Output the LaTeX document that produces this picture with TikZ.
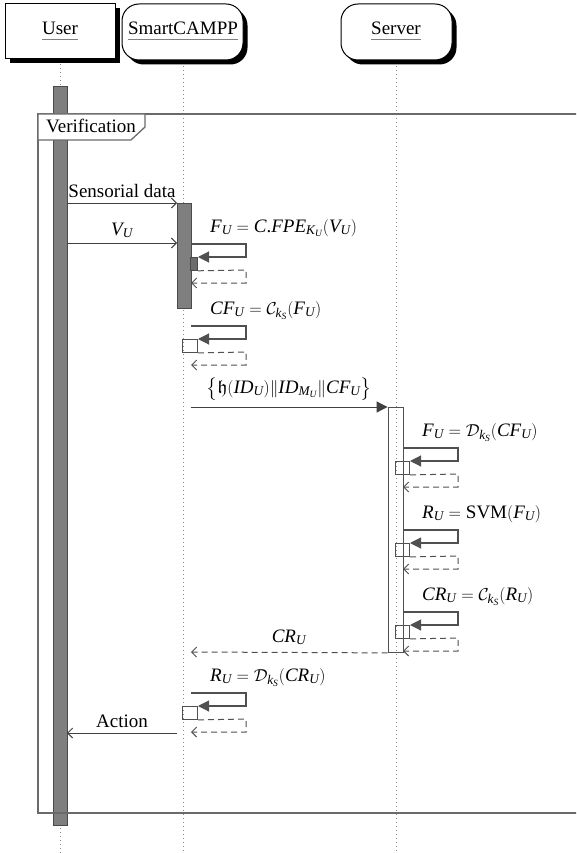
\documentclass[tikz,border=0pt]{standalone}
\usepackage{amsmath}
\usepackage{amssymb}
\usepackage{fontspec}
\setmainfont{Liberation Serif}[NFSSFamily=libser]
\DeclareSymbolFont{letters}{TU}{libser}{m}{it}
\usetikzlibrary{arrows.meta,shadows}
\definecolor{linegray}{HTML}{404040}
\definecolor{loopgray}{HTML}{505050}
\definecolor{barfill}{HTML}{7F7F7F}
\definecolor{bardraw}{HTML}{4A4A4A}
\definecolor{framegray}{HTML}{6A6A6A}
\definecolor{lifegray}{HTML}{8A8A8A}
\tikzset{
  hdr/.style={draw=black, line width=1pt, fill=white, inner sep=0pt,
    drop shadow={shadow xshift=4.5pt, shadow yshift=-4.5pt, fill=black, opacity=1}},
  hname/.style={inner sep=0pt, anchor=base},
  uline/.style={draw=gray, line width=1.6pt},
  lifeline/.style={draw=lifegray, line width=0.9pt, dash pattern=on 1pt off 3pt},
  darkbar/.style={draw=bardraw, fill=barfill, line width=0.8pt, inner sep=0pt},
  whitebar/.style={draw=loopgray, line width=0.9pt, inner sep=0pt},
  nestbar/.style={draw=bardraw, fill=barfill!85!black, line width=0.8pt, inner sep=0pt},
  smallbox/.style={draw=loopgray, line width=0.9pt, inner sep=0pt},
  msg/.style={draw=linegray, line width=1pt},
  loopline/.style={draw=loopgray, line width=1.1pt},
  retline/.style={draw=loopgray, line width=1pt, dash pattern=on 6pt off 4pt},
  openarr/.style={-{Straight Barb[length=5pt,width=10pt,line width=0.9pt]}},
  filledarr/.style={-{Triangle[length=11pt,width=11pt]}},
  lbl/.style={inner sep=0pt},
}
\newcommand\selfcall[6]{%
  \begin{scope}[shift={(#2,#3)}]
    \coordinate (#1a) at (0,0);
    \coordinate (#1b) at (55,0);
    \coordinate (#1c) at (55,13);
    \node[#5, anchor=north east, minimum width=#4, minimum height=13] (#1box) at (7,13) {};
    \coordinate (#1d) at (55,26);
    \coordinate (#1e) at (55,39);
    \coordinate (#1f) at (0,39);
    \draw[loopline, filledarr] (#1a) -- (#1b) -- (#1c) -- (#1box.north east);
    \draw[retline, openarr] (#1box.south east) -- (#1d) -- (#1e) -- (#1f);
    \node[lbl, anchor=base west] (#1lbl) at (19,-12) {$#6$};
  \end{scope}}
\begin{document}
\begin{tikzpicture}[x=1pt,y=-1pt, font=\fontsize{19}{22}\selectfont]
\clip (0,0) rectangle (576,853);
\fill[white] (0,0) rectangle (576,853);

% headers
\node[hdr, minimum width=110, minimum height=55] (user) at (60,31.5) {};
\node[hdr, rounded corners=17pt, minimum width=121, minimum height=56] (smart) at (182.5,32) {};
\node[hdr, rounded corners=17pt, minimum width=111, minimum height=56] (server) at (396.5,32) {};
\node[hname] (usert) at (60,35) {User};
\node[hname] (smartt) at (183,35) {SmartCAMPP};
\node[hname] (servert) at (396,35) {Server};
\draw[uline] ([yshift=-4.5pt]usert.base west) -- ([yshift=-4.5pt]usert.base east);
\draw[uline] ([yshift=-4.5pt]smartt.base west) -- ([yshift=-4.5pt]smartt.base east);
\draw[uline] ([yshift=-4.5pt]servert.base west) -- ([yshift=-4.5pt]servert.base east);

% lifelines
\coordinate (uend) at (60,853);
\coordinate (send) at (183,853);
\coordinate (vend) at (396,853);
\draw[lifeline] (60,64) -- (uend);
\draw[lifeline] (183,66) -- (send);
\draw[lifeline] (396,66) -- (vend);

% activation bars
\node[darkbar, anchor=north, minimum width=14, minimum height=739] (ubar) at (60,86) {};
\node[darkbar, anchor=north, minimum width=14, minimum height=105] (scbar) at (184,203) {};
\node[whitebar, anchor=north, minimum width=15, minimum height=245] (sbar) at (395.5,407) {};

% frame
\draw[framegray, line width=1.3pt] (38,114) rectangle (620,813);
\filldraw[draw=framegray, fill=white, line width=1.3pt] (38,114) -- (145,114) -- (145,127) -- (131,140) -- (38,140) -- cycle;
\node[lbl, anchor=base west] (frametitle) at (46,133) {Verification};

% messages
\coordinate (m1s) at (67,203);
\coordinate (m1e) at (177,203);
\draw[msg, openarr] (m1s) -- (m1e);
\node[lbl, anchor=base] (m1l) at (122,197) {Sensorial data};

\coordinate (m2s) at (67,243);
\coordinate (m2e) at (177,243);
\draw[msg, openarr] (m2s) -- (m2e);
\node[lbl, anchor=base] (m2l) at (122,235) {$V_U$};

\selfcall{sa}{191}{244}{7}{nestbar}{F_U = C\textnormal{.}FPE_{K_U}(V_U)}
\selfcall{sb}{191}{326}{15}{smallbox}{CF_U = \mathcal{C}_{k_S}(F_U)}

\coordinate (m3s) at (191,407);
\draw[msg, filledarr] (m3s) -- (sbar.north west);
\node[lbl, anchor=base] (m3l) at (289,393) {$\bigl\{\mathfrak{h}(ID_U)\|ID_{M_U}\|CF_U\bigr\}$};

\selfcall{sc}{403}{448}{14}{smallbox}{F_U = \mathcal{D}_{k_S}(CF_U)}
\selfcall{sd}{403}{530}{14}{smallbox}{R_U = \mathrm{SVM}(F_U)}
\selfcall{se}{403}{612}{14}{smallbox}{CR_U = \mathcal{C}_{k_S}(R_U)}

\coordinate (m4e) at (191,652);
\draw[retline, openarr] (sbar.south west) -- (m4e);
\node[lbl, anchor=base] (m4l) at (289,642) {$CR_U$};

\selfcall{sf}{191}{693}{15}{smallbox}{R_U = \mathcal{D}_{k_S}(CR_U)}

\coordinate (m5s) at (177,733);
\coordinate (m5e) at (67,733);
\draw[msg, openarr] (m5s) -- (m5e);
\node[lbl, anchor=base] (m5l) at (122,727) {Action};
\end{tikzpicture}
\end{document}
